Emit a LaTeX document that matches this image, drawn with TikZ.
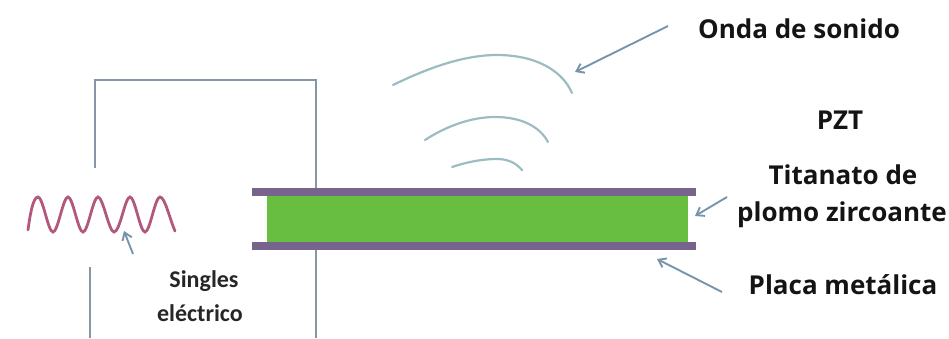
\documentclass[tikz,border=0pt]{standalone}
\usepackage{fontspec}
\setmainfont{Open Sans}
\newfontfamily\calib{Carlito}
\usetikzlibrary{arrows.meta}
\definecolor{wire}{RGB}{135,150,165}
\definecolor{plate}{RGB}{118,100,140}
\definecolor{fillgreen}{RGB}{104,190,64}
\definecolor{sig}{RGB}{178,88,125}
\definecolor{wavec}{RGB}{155,188,193}
\definecolor{arrowc}{RGB}{120,148,170}
\tikzset{
  wireline/.style={draw=wire,line width=2.8pt},
  soundwave/.style={draw=wavec,line width=2.2pt,line cap=round},
  pointer/.style={draw=arrowc,line width=1.9pt,-{Straight Barb[length=7pt,width=10pt,line width=1.9pt]}},
  platebar/.style={fill=plate,draw=none,minimum height=8pt,inner sep=0pt,outer sep=0pt},
  lbl/.style={font=\bfseries\fontsize{26}{30}\selectfont,align=center,text=black!92,inner sep=0pt},
  smalllbl/.style={font=\calib\bfseries\fontsize{24}{28}\selectfont,align=center,text=black!85,inner sep=0pt}
}
\begin{document}
\begin{tikzpicture}[x=1pt,y=-1pt]
\useasboundingbox (0,0) rectangle (949,338);
% plates and green body
\node[fill=fillgreen,draw=none,minimum width=421pt,minimum height=46pt,inner sep=0pt] (body) at (477.5,219) {};
\node[platebar,minimum width=444pt] (top) at (474,192) {};
\node[platebar,minimum width=444pt] (bot) at (474,246) {};
% wires
\coordinate (tl) at (95,168);
\coordinate (tc) at (95,80);
\coordinate (tr) at (316,80);
\coordinate (pt) at (316,188);
\coordinate (pb) at (316,250);
\coordinate (bre) at (316,338);
\coordinate (ble) at (90,267);
\coordinate (bld) at (90,338);
\draw[wireline] (tl) -- (tc) -- (tr) -- (pt);
\draw[wireline] (pb) -- (bre);
\draw[wireline] (ble) -- (bld);
% signal
\draw[sig,line width=2.8pt,line cap=round] (28,230)
 .. controls (30,215) and (33,197) .. (38,197)
 .. controls (43,197) and (48,232) .. (53,232)
 .. controls (58,232) and (63,197) .. (68,197)
 .. controls (73,197) and (78,232) .. (83,232)
 .. controls (88,232) and (93,197) .. (98,197)
 .. controls (103,197) and (109,232) .. (114,232)
 .. controls (120,232) and (125,197) .. (130,197)
 .. controls (135,197) and (140,232) .. (145,232)
 .. controls (150,232) and (155,197) .. (160,197)
 .. controls (165,197) and (170,220) .. (175,231);
\coordinate (sa) at (133,254);
\coordinate (sb) at (124,231);
\draw[pointer] (sa) -- (sb);
% sound waves
\draw[soundwave] (393,85) .. controls (430,67) and (465,55) .. (497,55) .. controls (535,55) and (562,70) .. (572,93);
\draw[soundwave] (425,140) .. controls (445,127) and (470,117) .. (495,117) .. controls (522,117) and (540,127) .. (548,142);
\draw[soundwave] (452,167) .. controls (470,161) and (485,159) .. (497,159) .. controls (508,159) and (516,163) .. (522,170);
% pointers
\coordinate (a1s) at (668,26);
\coordinate (a1e) at (575,72);
\draw[pointer] (a1s) -- (a1e);
\coordinate (a2s) at (727,197);
\coordinate (a2e) at (695,216);
\draw[pointer] (a2s) -- (a2e);
\coordinate (a3s) at (722,292);
\coordinate (a3e) at (657,259);
\draw[pointer] (a3s) -- (a3e);
% labels
\node[lbl] (onda) at (799,29) {Onda de sonido};
\node[lbl] (pzt) at (840,120) {PZT};
\node[lbl] (tit) at (843,175) {Titanato de};
\node[lbl] (plo) at (842,215) {plomo zircoante};
\node[lbl] (pla) at (843,285) {Placa metálica};
\node[smalllbl] (s1) at (204,281) {Singles};
\node[smalllbl] (s2) at (200,313) {eléctrico};
\end{tikzpicture}
\end{document}
